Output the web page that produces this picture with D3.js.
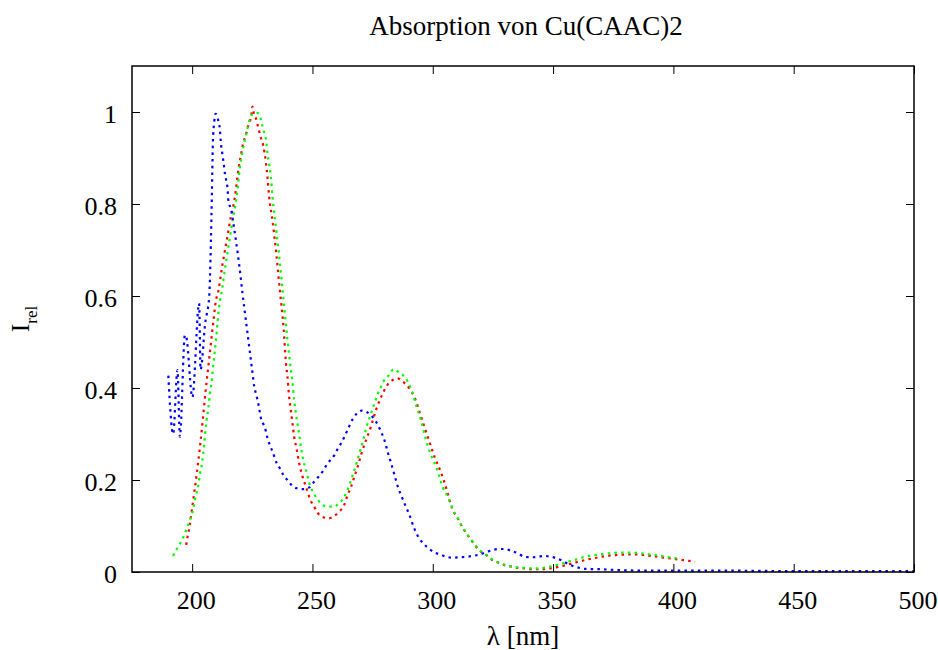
<!DOCTYPE html>
<html>
<head>
<meta charset="utf-8">
<script src="https://cdn.jsdelivr.net/npm/d3@7"></script>
<style>
  html, body { margin: 0; padding: 0; background: #fff; }
  svg { display: block; }
  text { font-family: "Liberation Serif", "Times New Roman", serif; fill: #000; }
</style>
</head>
<body>
<svg id="chart" width="938" height="650"></svg>
<script>
// Absorption spectra, wavelength (nm) vs. relative intensity
const redSpectrum = [
  [197.5,0.059],[198.0,0.074],[199.0,0.102],[199.7,0.128],[200.5,0.158],[202.0,0.217],
  [203.3,0.275],[204.45,0.332],[205.5,0.389],[206.7,0.446],[207.8,0.497],[208.9,0.548],
  [209.9,0.591],[210.7,0.606],[212.5,0.665],[214.5,0.725],[216.0,0.77],[217.1,0.795],
  [217.9,0.82],[218.6,0.849],[219.3,0.878],[220.3,0.907],[221.2,0.932],[222.3,0.95],
  [223.4,0.972],[224.5,0.99],[225.1,1.012],[225.7,0.995],[226.5,0.986],[227.2,0.972],
  [228.6,0.943],[229.5,0.928],[230.7,0.888],[231.3,0.859],[232.0,0.816],[233.5,0.76],
  [235.0,0.69],[236.5,0.61],[238.0,0.53],[239.0,0.454],[239.6,0.425],[240.3,0.381],
  [241.0,0.352],[241.7,0.323],[242.4,0.294],[243.5,0.265],[244.5,0.236],[245.9,0.207],
  [247.5,0.182],[249.1,0.157],[250.7,0.142],[252.1,0.129],[254.0,0.120],[256.7,0.117],
  [259.1,0.122],[261.1,0.131],[263.2,0.146],[264.6,0.167],[266.0,0.185],[267.4,0.207],
  [268.8,0.229],[270.4,0.258],[272.3,0.287],[274.3,0.316],[276.4,0.352],[279.2,0.388],
  [281.2,0.407],[283.3,0.417],[285.4,0.421],[287.5,0.414],[290.3,0.399],[292.3,0.381],
  [295.1,0.338],[297.9,0.294],[300.7,0.251],[303.5,0.215],[306.2,0.171],[306.9,0.157],
  [309.0,0.128],[310.4,0.117],[311.8,0.102],[313.1,0.091],[314.5,0.080],[315.9,0.070],
  [318.0,0.055],[320.1,0.044],[322.2,0.037],[324.2,0.028],[327.0,0.021],[329.8,0.015],
  [332.6,0.012],[335.3,0.009],[338.1,0.008],[341.0,0.006],[344.0,0.006],[347.0,0.007],
  [350.0,0.009],[353.0,0.012],[356.0,0.016],[359.5,0.021],[362.5,0.025],[365.0,0.028],
  [368.0,0.031],[371.0,0.034],[374.0,0.036],[377.0,0.037],[380.0,0.038],[383.0,0.038],
  [386.0,0.038],[389.0,0.036],[392.0,0.034],[395.0,0.032],[398.0,0.030],[401.0,0.028],
  [404.0,0.026],[406.7,0.024],[409.0,0.022]
];

const greenSpectrum = [
  [192.1,0.035],[193.5,0.049],[194.9,0.061],[196.3,0.075],[197.4,0.089],[198.3,0.102],
  [199.2,0.115],[200.1,0.129],[200.7,0.143],[201.2,0.158],[201.8,0.171],[202.5,0.187],
  [202.9,0.200],[203.3,0.215],[203.9,0.229],[204.3,0.243],[204.9,0.272],[205.4,0.301],
  [206.0,0.330],[206.8,0.359],[207.4,0.388],[208.2,0.417],[208.7,0.446],[209.3,0.475],
  [209.9,0.504],[210.4,0.533],[210.9,0.562],[211.5,0.588],[212.1,0.604],[213.8,0.665],
  [215.6,0.725],[217.0,0.77],[217.9,0.795],[218.6,0.82],[219.2,0.849],[219.8,0.878],
  [220.7,0.907],[221.6,0.932],[222.6,0.955],[224.0,0.985],[225.5,0.997],[227.0,0.998],
  [227.9,0.995],[228.6,0.983],[229.3,0.968],[230.0,0.954],[230.7,0.939],[231.3,0.91],
  [232.0,0.888],[232.7,0.859],[233.4,0.816],[235.0,0.74],[236.5,0.67],[238.0,0.59],
  [239.5,0.51],[240.8,0.45],[241.5,0.421],[242.4,0.374],[243.1,0.345],[244.2,0.309],
  [245.2,0.272],[246.2,0.243],[247.3,0.222],[248.7,0.193],[251.0,0.167],[253.5,0.149],
  [256.3,0.142],[258.8,0.142],[260.9,0.149],[262.8,0.160],[264.3,0.175],[265.6,0.193],
  [267.0,0.215],[268.5,0.240],[269.9,0.265],[271.3,0.291],[272.5,0.316],[273.9,0.338],
  [275.3,0.359],[276.7,0.381],[278.5,0.403],[280.3,0.421],[281.9,0.428],[283.7,0.441],
  [286.1,0.433],[288.2,0.425],[289.6,0.414],[291.4,0.392],[293.3,0.359],[295.1,0.330],
  [297.2,0.287],[299.3,0.254],[301.4,0.229],[304.1,0.185],[306.2,0.164],[307.0,0.155],
  [309.0,0.128],[310.4,0.117],[311.8,0.102],[313.1,0.091],[314.5,0.080],[316.0,0.070],
  [318.0,0.056],[320.0,0.045],[322.2,0.037],[324.2,0.029],[327.0,0.021],[329.8,0.016],
  [332.6,0.012],[335.3,0.010],[338.0,0.009],[341.0,0.008],[344.0,0.008],[347.0,0.010],
  [350.0,0.013],[353.0,0.017],[356.0,0.022],[359.5,0.027],[362.5,0.032],[365.0,0.035],
  [368.0,0.037],[371.0,0.039],[374.0,0.041],[377.0,0.042],[380.0,0.042],[383.0,0.042],
  [386.0,0.041],[389.0,0.039],[392.0,0.037],[395.0,0.035],[398.0,0.032],[401.0,0.030],
  [403.0,0.028]
];

const blueSpectrum = [
  [190.1,0.427],[192.1,0.300],[193.9,0.439],[194.9,0.294],[197.0,0.515],[197.6,0.510],
  [200.1,0.380],[202.9,0.584],[203.5,0.440],[205.4,0.540],[207.1,0.600],[207.8,0.720],
  [208.2,0.820],[208.6,0.930],[209.2,0.980],[209.7,0.996],[210.4,0.993],[210.9,0.979],
  [211.5,0.964],[211.9,0.935],[212.6,0.907],[213.0,0.892],[213.7,0.863],[214.7,0.834],
  [215.1,0.805],[216.1,0.790],[217.5,0.745],[219.0,0.690],[220.3,0.635],[220.9,0.606],
  [221.6,0.577],[222.3,0.548],[223.0,0.519],[223.7,0.490],[224.4,0.461],[225.1,0.432],
  [225.8,0.403],[226.5,0.388],[227.6,0.363],[228.6,0.334],[229.7,0.320],[230.7,0.305],
  [231.3,0.291],[232.3,0.276],[233.4,0.262],[235.2,0.236],[236.5,0.225],[237.9,0.211],
  [239.6,0.200],[241.3,0.189],[243.5,0.182],[246.2,0.180],[248.7,0.184],[250.7,0.196],
  [252.5,0.207],[254.2,0.218],[255.9,0.233],[257.4,0.243],[259.1,0.254],[260.4,0.267],
  [261.9,0.280],[263.2,0.293],[264.6,0.309],[266.7,0.332],[268.5,0.345],[270.4,0.351],
  [272.5,0.348],[274.3,0.341],[276.4,0.327],[278.5,0.305],[279.9,0.287],[281.2,0.262],
  [282.9,0.233],[284.3,0.207],[285.7,0.182],[287.1,0.164],[288.5,0.146],[290.3,0.124],
  [292.3,0.095],[294.4,0.073],[296.1,0.062],[297.9,0.053],[300.2,0.044],[303.0,0.038],
  [305.8,0.033],[308.3,0.031],[311.1,0.032],[313.9,0.033],[316.6,0.035],[319.4,0.038],
  [322.2,0.043],[324.9,0.048],[327.7,0.050],[330.2,0.050],[332.6,0.046],[335.3,0.041],
  [338.1,0.033],[340.9,0.032],[343.6,0.033],[346.4,0.035],[349.2,0.033],[351.3,0.030],
  [354.0,0.024],[356.4,0.017],[358.9,0.012],[361.7,0.008],[364.4,0.0065],[370.0,0.006],
  [377.6,0.004],[390.0,0.003],[420.0,0.003],[450.0,0.002],[480.0,0.002],[500.0,0.002]
];

const xTicks = [200, 250, 300, 350, 400, 450, 500];
const yTicks = [0, 0.2, 0.4, 0.6, 0.8, 1];
const chartTitle = "Absorption von Cu(CAAC)2";

const svg = d3.select("#chart");
const plot = { left: 132, right: 914, top: 66, bottom: 572 };
const FONT = 26;

const x = d3.scaleLinear().domain([175, 500]).range([plot.left, plot.right]);
const y = d3.scaleLinear().domain([0, 1.1]).range([plot.bottom, plot.top]);

svg.append("rect").attr("width", 938).attr("height", 650).attr("fill", "#fff");

// Axes with inward ticks on all four sides
const yFmt = d => d === 0 ? "0" : d === 1 ? "1" : d3.format(".1f")(d);

const gx = svg.append("g")
  .attr("transform", `translate(0,${plot.bottom})`)
  .call(d3.axisBottom(x).tickValues(xTicks).tickSize(-8).tickPadding(18.5));
gx.selectAll("text").attr("dx", 3.5);

const gy = svg.append("g")
  .attr("transform", `translate(${plot.left},0)`)
  .call(d3.axisLeft(y).tickValues(yTicks).tickFormat(yFmt).tickSize(-8).tickPadding(15));
gy.selectAll("text").attr("dy", "0.4em");

const gt = svg.append("g")
  .attr("transform", `translate(0,${plot.top})`)
  .call(d3.axisTop(x).tickValues(xTicks).tickFormat("").tickSize(-8));
const gr = svg.append("g")
  .attr("transform", `translate(${plot.right},0)`)
  .call(d3.axisRight(y).tickValues(yTicks).tickFormat("").tickSize(-8));

[gx, gy, gt, gr].forEach(g => {
  g.select(".domain").remove();
  g.selectAll(".tick line").attr("stroke", "#000").attr("stroke-width", 1);
  g.selectAll("text")
    .style("font-family", '"Liberation Serif", "Times New Roman", serif')
    .style("font-size", FONT + "px")
    .attr("fill", "#000");
});

// Spectra as dotted lines
const line = d3.line()
  .x(d => x(d[0]))
  .y(d => y(d[1]))
  .curve(d3.curveMonotoneX);

const series = [
  { data: redSpectrum, color: "#ff0000" },
  { data: greenSpectrum, color: "#00ff00" },
  { data: blueSpectrum, color: "#0000ff" }
];

svg.append("g").selectAll("path")
  .data(series)
  .join("path")
  .attr("d", s => line(s.data))
  .attr("fill", "none")
  .attr("stroke", s => s.color)
  .attr("stroke-width", 2.2)
  .attr("stroke-dasharray", "2.5,4.2");

// Plot frame
svg.append("rect")
  .attr("x", plot.left).attr("y", plot.top)
  .attr("width", plot.right - plot.left).attr("height", plot.bottom - plot.top)
  .attr("fill", "none").attr("stroke", "#000").attr("stroke-width", 1.5);

// Title and axis labels
svg.append("text")
  .attr("x", (plot.left + plot.right) / 2 + 3).attr("y", 35)
  .attr("text-anchor", "middle")
  .style("font-size", "27px")
  .text(chartTitle);

svg.append("text")
  .attr("x", (plot.left + plot.right) / 2).attr("y", 645)
  .attr("text-anchor", "middle")
  .style("font-size", "27px")
  .text("λ [nm]");

const yLabel = svg.append("text")
  .attr("transform", `translate(28.5,${(plot.top + plot.bottom) / 2}) rotate(-90)`)
  .attr("text-anchor", "middle")
  .style("font-size", FONT + "px");
yLabel.append("tspan").text("I");
yLabel.append("tspan").attr("dy", 8).style("font-size", "17px").text("rel");
</script>
</body>
</html>
